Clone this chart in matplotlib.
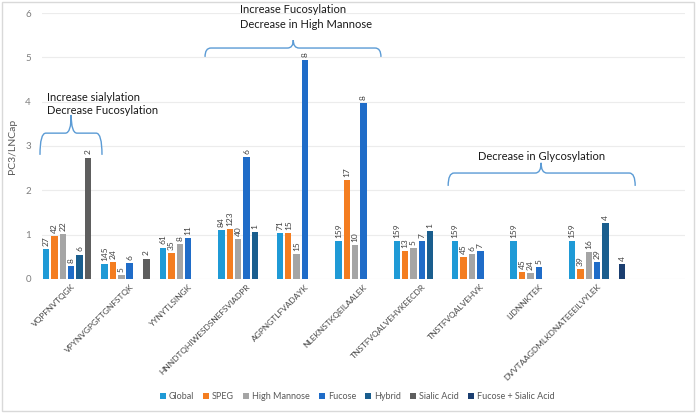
import numpy as np
import matplotlib
matplotlib.use("Agg")
import matplotlib.pyplot as plt
from matplotlib.path import Path
from matplotlib.patches import PathPatch, Rectangle

plt.rcParams['font.family'] = ['Lato', 'DejaVu Sans']

nan = np.nan
categories = ["VQPFNVTQGK", "VPYNVGPGFTGNFSTQK", "YYNYTLSINGK",
              "HNNDTQHIWESDSNEFSVIADPR", "AGPNGTLFVADAYK", "NLEKNSTKQEILAALEK",
              "TNSTFVQALVEHVKEECDR", "TNSTFVQALVEHVK", "LIDNNKTEK",
              "DVVTAAGDMLKDNATEEEILVYLEK"]
series = ["Global", "SPEG", "High Mannose", "Fucose", "Hybrid", "Sialic Acid",
          "Fucose + Sialic Acid"]

global_vals = [0.68, 0.33, 0.71, 1.11, 1.03, 0.865, 0.865, 0.865, 0.865, 0.865]
global_n = [27, 145, 61, 84, 71, 159, 159, 159, 159, 159]
speg_vals = [0.96, 0.39, 0.59, 1.12, 1.03, 2.23, 0.63, 0.49, 0.15, 0.22]
speg_n = [42, 24, 35, 123, 15, 17, 13, 45, 45, 39]
hm_vals = [1.01, 0.08, 0.795, 0.91, 0.56, 0.76, 0.70, 0.56, 0.13, 0.61]
hm_n = [22, 5, 8, 40, 15, 10, 5, 6, 24, 16]
fuc_vals = [0.29, 0.355, 0.93, 2.75, 4.93, 3.97, 0.85, 0.63, 0.265, 0.38]
fuc_n = [8, 6, 11, 6, 8, 8, 7, 7, 5, 29]
hybrid_vals = [0.55, nan, nan, 1.06, nan, nan, 1.08, nan, nan, 1.265]
hybrid_n = [6, None, None, 1, None, None, 1, None, None, 4]
sialic_vals = [2.74, 0.46, nan, nan, nan, nan, nan, nan, nan, nan]
sialic_n = [2, 2, None, None, None, None, None, None, None, None]
fs_vals = [nan, nan, nan, nan, nan, nan, nan, nan, nan, 0.33]
fs_n = [None, None, None, None, None, None, None, None, None, 4]

colors = ['#1f9ad6', '#f47d20', '#a5a5a5', '#1f6cc8', '#1a5e8e', '#5e5e5e', '#1b3e70']

all_vals = [global_vals, speg_vals, hm_vals, fuc_vals, hybrid_vals, sialic_vals, fs_vals]
all_n = [global_n, speg_n, hm_n, fuc_n, hybrid_n, sialic_n, fs_n]

fig = plt.figure(figsize=(6.96, 4.13), dpi=100)
ax = fig.add_axes([0.0603, 0.3245, 0.9237, 0.644])

x = np.arange(len(categories))
slot = 1 / 7
width = 0.11
for j, (vals, ns) in enumerate(zip(all_vals, all_n)):
    pos = x + (j - 3) * slot
    ax.bar(pos, vals, width, color=colors[j], label=series[j], zorder=3)
    for p, v, n in zip(pos, vals, ns):
        if n is not None and not np.isnan(v):
            ax.text(p, v + 0.07, str(n), rotation=90, ha='center', va='bottom',
                    fontsize=6, color='#404040')

ax.set_xlim(-0.5, 10.5)
ax.set_ylim(0, 6)
ax.set_yticks(range(7))
ax.set_xticks(x)
ax.set_xticklabels(categories, rotation=45, ha='right', rotation_mode='anchor',
                   fontsize=6, color='#474747')
ax.tick_params(axis='both', length=0)
ax.tick_params(axis='y', labelsize=7, labelcolor='#7f7f7f', pad=8)
ax.tick_params(axis='x', pad=3)
ax.grid(axis='y', color='#ececec', linewidth=0.8, zorder=0)
for s in ax.spines.values():
    s.set_visible(False)
ax.set_ylabel("PC3/LNCap", fontsize=7.5, color='#595959', labelpad=6)


def brace(x0, x1, xm, y_end, y_top, y_tip, r):
    verts = [(x0, y_end), (x0, y_top), (x0 + r, y_top),
             (xm - r, y_top), (xm, y_top), (xm, y_tip),
             (xm, y_top), (xm + r, y_top),
             (x1 - r, y_top), (x1, y_top), (x1, y_end)]
    codes = [Path.MOVETO, Path.CURVE3, Path.CURVE3,
             Path.LINETO, Path.CURVE3, Path.CURVE3,
             Path.CURVE3, Path.CURVE3,
             Path.LINETO, Path.CURVE3, Path.CURVE3]
    ax.add_patch(PathPatch(Path(verts, codes), fill=False, edgecolor='#5b9bd5',
                           linewidth=1, clip_on=False, zorder=4))


brace(-0.534, 0.527, 0.0, 2.80, 3.29, 3.70, 0.1)
brace(2.29, 5.30, 3.80, 5.01, 5.21, 5.39, 0.1)
brace(6.45, 9.65, 8.04, 2.10, 2.39, 2.62, 0.1)

tkw = dict(fontsize=8, color='#1a1a1a', va='center', clip_on=False)
ax.text(-0.414, 4.10, "Increase sialylation", ha='left', **tkw)
ax.text(-0.414, 3.79, "Decrease Fucosylation", ha='left', **tkw)
ax.text(2.89, 6.07, "Increase Fucosylation", ha='left', **tkw)
ax.text(2.89, 5.75, "Decrease in High Mannose", ha='left', **tkw)
ax.text(8.04, 2.77, "Decrease in Glycosylation", ha='center', **tkw)

fig.legend(loc='center', bbox_to_anchor=(0.513, 0.039), ncol=7, frameon=False,
           fontsize=6.5, labelcolor='#595959', handlelength=0.7, handleheight=0.7,
           handletextpad=0.3, columnspacing=1.0)

fig.patches.append(Rectangle((0.003, 0.005), 0.994, 0.99, transform=fig.transFigure,
                             fill=False, edgecolor='#d9d9d9', linewidth=1))

fig.savefig("out.png", dpi=100)
